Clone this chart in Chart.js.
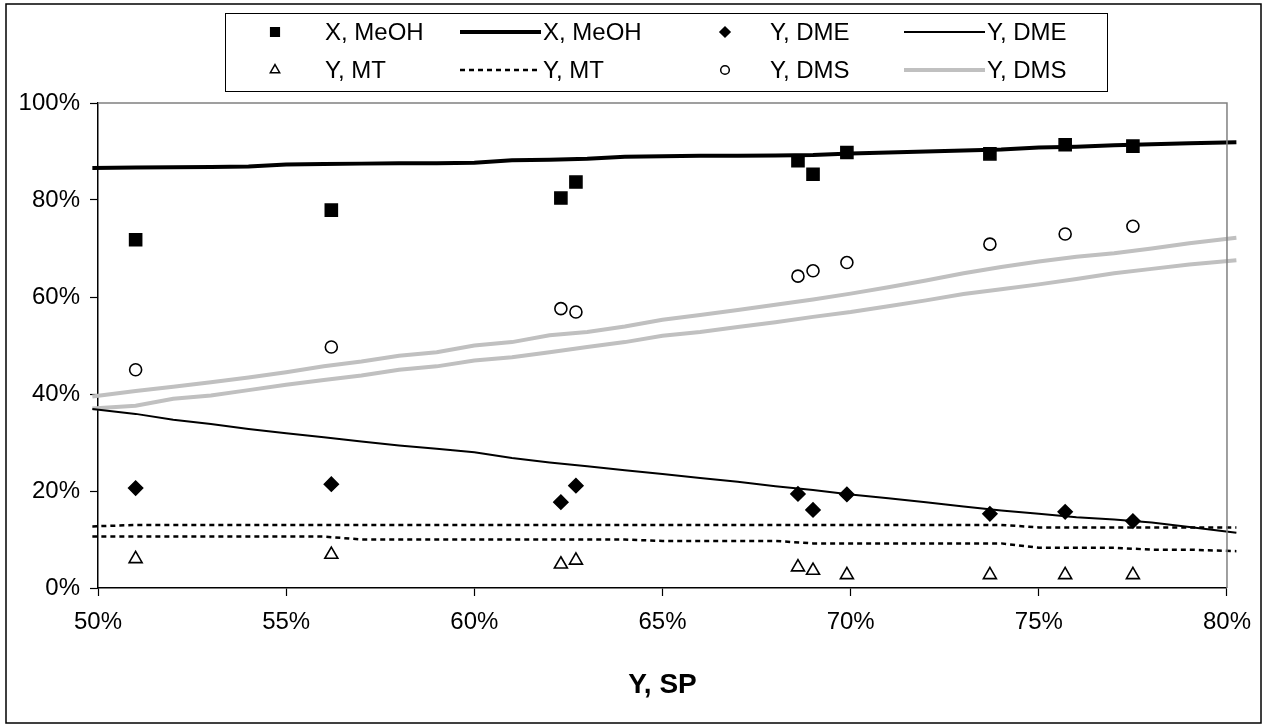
<!DOCTYPE html>
<html><head><meta charset="utf-8">
<script src="https://cdn.jsdelivr.net/npm/chart.js@4.4.1/dist/chart.umd.min.js"></script>
<style>html,body{margin:0;padding:0;background:#fff}#wrap{position:relative;width:1263px;height:727px}</style>
</head><body><div id="wrap"><canvas id="c" width="1263" height="727"></canvas></div>
<script>
// Experimental points (x = Y, SP in %)
const expX    = [51.0, 56.2, 62.3, 62.7, 68.6, 69.0, 69.9, 73.7, 75.7, 77.5];
const expMeOH = [71.8, 77.9, 80.4, 83.7, 88.1, 85.3, 89.8, 89.5, 91.4, 91.1];
const expDME  = [20.6, 21.4, 17.7, 21.1, 19.4, 16.1, 19.3, 15.3, 15.7, 13.8];
const expMT   = [6.0, 6.9, 4.9, 5.7, 4.3, 3.6, 2.7, 2.7, 2.7, 2.7];
const expDMS  = [45.0, 49.7, 57.6, 56.9, 64.3, 65.4, 67.1, 70.9, 73.0, 74.6];

// Model curves (x = 50 .. 80 %, slightly extended at both ends as drawn)
const modelX = [49.85, 51, 52, 53, 54, 55, 56, 57, 58, 59, 60, 61, 62, 63, 64, 65,
                66, 67, 68, 69, 70, 71, 72, 73, 74, 75, 76, 77, 78, 79, 80.25];
const modelMeOH = [86.6, 86.7, 86.75, 86.8, 86.9, 87.3, 87.4, 87.5, 87.6, 87.6, 87.7, 88.2, 88.3, 88.5, 88.9, 89.0,
                   89.1, 89.1, 89.2, 89.3, 89.6, 89.8, 90.0, 90.2, 90.4, 90.8, 91.0, 91.3, 91.5, 91.7, 91.9];
const modelDME  = [36.9, 35.9, 34.7, 33.8, 32.8, 31.9, 31.1, 30.2, 29.4, 28.7, 28.0, 26.8, 25.9, 25.1, 24.3, 23.5,
                   22.7, 21.9, 21.0, 20.2, 19.3, 18.5, 17.7, 16.8, 16.0, 15.3, 14.6, 14.1, 13.5, 12.6, 11.4];
const modelMTa  = [12.7, 13.0, 13.0, 13.0, 13.0, 13.0, 13.0, 13.0, 13.0, 13.0, 13.0, 13.0, 13.0, 13.0, 13.0, 13.0,
                   13.0, 13.0, 13.0, 13.0, 13.0, 13.0, 13.0, 13.0, 13.0, 12.5, 12.5, 12.5, 12.5, 12.5, 12.5];
const modelMTb  = [10.6, 10.6, 10.6, 10.6, 10.6, 10.6, 10.6, 10.0, 10.0, 10.0, 10.0, 10.0, 10.0, 10.0, 10.0, 9.7,
                   9.7, 9.7, 9.7, 9.2, 9.2, 9.2, 9.2, 9.2, 9.2, 8.3, 8.3, 8.3, 7.9, 7.9, 7.6];
const modelDMSa = [39.5, 40.6, 41.5, 42.4, 43.4, 44.5, 45.7, 46.7, 47.9, 48.6, 50.0, 50.7, 52.1, 52.8, 53.9, 55.3,
                   56.3, 57.3, 58.4, 59.5, 60.7, 62.0, 63.4, 64.9, 66.2, 67.3, 68.3, 69.0, 70.0, 71.1, 72.2];
const modelDMSb = [37.0, 37.6, 39.0, 39.7, 40.8, 41.9, 42.9, 43.8, 45.0, 45.7, 46.9, 47.6, 48.6, 49.7, 50.7, 52.0,
                   52.8, 53.8, 54.8, 55.9, 56.9, 58.1, 59.3, 60.6, 61.6, 62.6, 63.7, 64.9, 65.8, 66.7, 67.6];

const xTicks = [50, 55, 60, 65, 70, 75, 80];
const yTicks = [0, 20, 40, 60, 80, 100];
const legendLabels = ['X, MeOH', 'X, MeOH', 'Y, DME', 'Y, DME', 'Y, MT', 'Y, MT', 'Y, DMS', 'Y, DMS'];

const FONT = "'Liberation Sans', Arial, sans-serif";
const pts = (xs, ys) => xs.map((x, i) => ({x, y: ys[i]}));
const GRAY = '#c0c0c0';

function scatterDS(label, ys, style, radius, fill) {
  return {label, data: pts(expX, ys), showLine: false, pointStyle: style, pointRadius: radius,
    pointHoverRadius: radius, pointBackgroundColor: fill, pointBorderColor: '#000', pointBorderWidth: 1.6, order: 0};
}
function lineDS(label, ys, color, width, dash) {
  return {label, data: pts(modelX, ys), showLine: true, pointRadius: 0, borderColor: color, borderWidth: width,
    borderDash: dash || [], tension: 0, clip: false, order: 1};
}

const datasets = [
  scatterDS('X, MeOH', expMeOH, 'rect', 8.5, '#000'),
  lineDS('X, MeOH', modelMeOH, '#000', 4),
  scatterDS('Y, DME', expDME, 'rectRot', 7, '#000'),
  lineDS('Y, DME', modelDME, '#000', 2),
  scatterDS('Y, MT', expMT, 'triangle', 7.5, '#fff'),
  lineDS('Y, MT', modelMTa, '#000', 2.5, [5, 4]),
  lineDS('Y, MT (2)', modelMTb, '#000', 2.5, [5, 4]),
  scatterDS('Y, DMS', expDMS, 'circle', 6, '#fff'),
  lineDS('Y, DMS', modelDMSa, GRAY, 4),
  lineDS('Y, DMS (2)', modelDMSb, GRAY, 4)
];

const framePlugin = {
  id: 'frame',
  afterDraw(chart) {
    const {ctx, chartArea: a} = chart;
    ctx.save();
    // outer border
    ctx.strokeStyle = '#000'; ctx.lineWidth = 1.5;
    ctx.strokeRect(6, 4, 1255, 719);
    // plot area top/right border (gray)
    ctx.strokeStyle = '#808080'; ctx.lineWidth = 1.5;
    ctx.beginPath();
    ctx.moveTo(a.left, a.top); ctx.lineTo(a.right, a.top); ctx.lineTo(a.right, a.bottom);
    ctx.stroke();
    // legend
    const L = 225, T = 13, R = 1107, B = 91;
    ctx.fillStyle = '#fff'; ctx.fillRect(L, T, R - L, B - T);
    ctx.strokeStyle = '#000'; ctx.lineWidth = 1;
    ctx.strokeRect(L + 0.5, T + 0.5, R - L, B - T);
    const rows = [32, 70];
    ctx.font = '24px ' + FONT; ctx.fillStyle = '#000'; ctx.textBaseline = 'middle'; ctx.textAlign = 'left';
    const items = [
      {ds: 0, kind: 'pt', mx: 275, tx: 325, row: 0},
      {ds: 1, kind: 'ln', lx: [460, 541], tx: 543, row: 0},
      {ds: 2, kind: 'pt', mx: 725, tx: 770, row: 0},
      {ds: 3, kind: 'ln', lx: [904, 985], tx: 987, row: 0},
      {ds: 4, kind: 'pt', mx: 275, tx: 325, row: 1},
      {ds: 5, kind: 'ln', lx: [460, 541], tx: 543, row: 1},
      {ds: 7, kind: 'pt', mx: 725, tx: 770, row: 1},
      {ds: 8, kind: 'ln', lx: [904, 985], tx: 987, row: 1}
    ];
    items.forEach((it, k) => {
      const d = datasets[it.ds];
      const y = rows[it.row];
      if (it.kind === 'pt') {
        ctx.save();
        ctx.fillStyle = d.pointBackgroundColor; ctx.strokeStyle = '#000'; ctx.lineWidth = 1.5;
        Chart.helpers.drawPoint(ctx, {pointStyle: d.pointStyle, radius: d.pointRadius * 0.72, borderWidth: 1.5}, it.mx, y);
        ctx.restore();
      } else {
        ctx.save();
        ctx.strokeStyle = d.borderColor; ctx.lineWidth = d.borderWidth; ctx.setLineDash(d.borderDash);
        ctx.beginPath(); ctx.moveTo(it.lx[0], y); ctx.lineTo(it.lx[1], y); ctx.stroke();
        ctx.restore();
      }
      ctx.fillStyle = '#000';
      ctx.fillText(legendLabels[k], it.tx, y + 1);
    });
    ctx.restore();
  }
};

new Chart(document.getElementById('c'), {
  type: 'scatter',
  data: {datasets},
  options: {
    responsive: false, animation: false,
    layout: {padding: {left: 0, right: 32, top: 103, bottom: 0}},
    plugins: {legend: {display: false}, tooltip: {enabled: false}},
    scales: {
      x: {
        type: 'linear', min: 50, max: 80,
        afterBuildTicks: s => { s.ticks = xTicks.map(v => ({value: v})); },
        ticks: {callback: v => v + '%', font: {family: FONT, size: 24}, color: '#000', padding: 12, maxRotation: 0},
        grid: {drawOnChartArea: false, drawTicks: true, tickLength: 8, color: '#000', tickWidth: 1.2},
        border: {color: '#000', width: 1.5},
        title: {display: true, text: 'Y, SP', color: '#000', font: {family: FONT, size: 28, weight: 'bold'}, padding: {top: 0, bottom: 25}},
        afterFit: s => { s.height = 139; }
      },
      y: {
        min: 0, max: 100,
        afterBuildTicks: s => { s.ticks = yTicks.map(v => ({value: v})); },
        ticks: {callback: v => v + '%', font: {family: FONT, size: 24}, color: '#000', padding: 10},
        grid: {drawOnChartArea: false, drawTicks: true, tickLength: 8, color: '#000', tickWidth: 1.2},
        border: {color: '#000', width: 1.5},
        afterFit: s => { s.width = 98; }
      }
    }
  },
  plugins: [framePlugin]
});
</script>
</body></html>
